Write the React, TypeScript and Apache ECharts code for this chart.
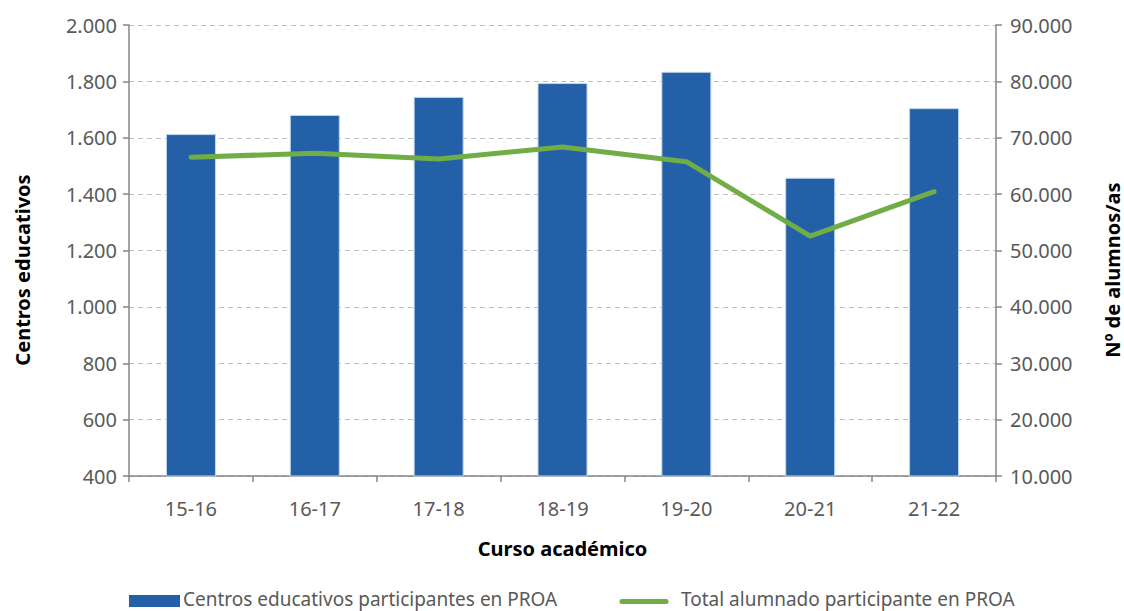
import React, { useEffect, useRef } from "react";
import * as echarts from "echarts";

const categories = ["15-16", "16-17", "17-18", "18-19", "19-20", "20-21", "21-22"];
const centros = [1613, 1681, 1745, 1794, 1834, 1458, 1705];
const alumnado = [66550, 67250, 66250, 68350, 65750, 52550, 60450];
const seriesNames = ["Centros educativos participantes en PROA", "Total alumnado participante en PROA"];

const FONT = "'Noto Sans', sans-serif";
const GREY = "#595959";
const BLUE = "#2460A7";
const GREEN = "#70AD47";

export default function App() {
  const ref = useRef<HTMLDivElement>(null);
  useEffect(() => {
    if (!ref.current) return;
    const chart = echarts.init(ref.current, undefined, { renderer: "svg" });
    const fmt = (v: number) => v.toLocaleString("de-DE");
    const axisCommon = {
      axisLine: { show: true, lineStyle: { color: "#868686", width: 1.5 } },
      axisTick: { show: true, length: 6, lineStyle: { color: "#868686", width: 1.5 } },
    };
    chart.setOption({
      animation: false,
      textStyle: { fontFamily: FONT },
      grid: { left: 129, right: 128, top: 25, bottom: 135, outerBoundsMode: "none", containLabel: false },
      xAxis: {
        type: "category",
        data: categories,
        name: "Curso académico",
        nameLocation: "middle",
        nameGap: 62,
        nameTextStyle: { color: "#000", fontWeight: "bold", fontSize: 20, fontFamily: FONT },
        ...axisCommon,
        axisLabel: { color: GREY, fontSize: 20, margin: 22, fontFamily: FONT },
      },
      yAxis: [
        {
          type: "value",
          min: 400,
          max: 2000,
          interval: 200,
          ...axisCommon,
          axisLabel: { color: GREY, fontSize: 20, margin: 12, formatter: fmt, fontFamily: FONT },
          splitLine: { lineStyle: { color: "#BFBFBF", type: [5, 4], width: 1.2 } },
        },
        {
          type: "value",
          min: 10000,
          max: 90000,
          interval: 10000,
          ...axisCommon,
          axisLabel: { color: GREY, fontSize: 20, margin: 14, formatter: fmt, fontFamily: FONT },
          splitLine: { show: false },
        },
      ],
      graphic: [
        {
          type: "text",
          x: 22,
          y: 270,
          rotation: Math.PI / 2,
          style: {
            text: "Centros educativos",
            fill: "#000",
            font: `bold 20px ${FONT}`,
            align: "center",
            verticalAlign: "middle",
          },
        },
        {
          type: "text",
          x: 1112,
          y: 270,
          rotation: Math.PI / 2,
          style: {
            text: "Nº de alumnos/as",
            fill: "#000",
            font: `bold 20px ${FONT}`,
            align: "center",
            verticalAlign: "middle",
          },
        },
        { type: "rect", shape: { x: 129, y: 595, width: 51, height: 12 }, style: { fill: BLUE } },
        {
          type: "text",
          x: 183,
          y: 599,
          style: { text: seriesNames[0], fill: GREY, font: `19px ${FONT}`, verticalAlign: "middle" },
        },
        {
          type: "line",
          shape: { x1: 622, y1: 601.5, x2: 666, y2: 601.5 },
          style: { stroke: GREEN, lineWidth: 5, lineCap: "round" },
        },
        {
          type: "text",
          x: 681,
          y: 599,
          style: { text: seriesNames[1], fill: GREY, font: `19px ${FONT}`, verticalAlign: "middle" },
        },
      ],
      series: [
        {
          name: seriesNames[0],
          type: "bar",
          data: centros,
          yAxisIndex: 0,
          barWidth: 50,
          itemStyle: { color: BLUE, borderColor: "#BDD7EE", borderWidth: 1 },
        },
        {
          name: seriesNames[1],
          type: "line",
          data: alumnado,
          yAxisIndex: 1,
          symbol: "none",
          lineStyle: { color: GREEN, width: 5, cap: "round", join: "round" },
          itemStyle: { color: GREEN },
        },
      ],
    });
    return () => chart.dispose();
  }, []);
  return <div ref={ref} style={{ position: "absolute", left: 0, top: 0, width: 1124, height: 611 }} />;
}
